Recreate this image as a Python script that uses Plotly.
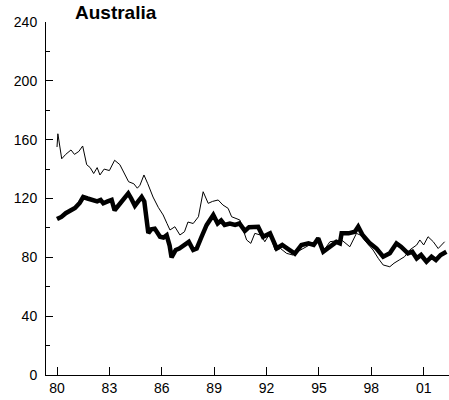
import plotly.graph_objects as go

# Thick series (decimal year, value)
thick_x = [1980.0, 1980.25, 1980.5, 1980.8, 1981.03, 1981.3, 1981.5, 1981.75, 1982.08, 1982.3,
           1982.5, 1982.65, 1982.9, 1983.13, 1983.3, 1983.55, 1983.8, 1984.08, 1984.25, 1984.46,
           1984.65, 1984.85, 1985.0, 1985.13, 1985.23, 1985.4, 1985.6, 1985.9, 1986.1, 1986.28,
           1986.45, 1986.56, 1986.8, 1987.0, 1987.3, 1987.55, 1987.8, 1988.0, 1988.28, 1988.57,
           1988.95, 1989.2, 1989.4, 1989.6, 1989.9, 1990.2, 1990.45, 1990.76, 1991.0, 1991.3,
           1991.52, 1991.8, 1992.2, 1992.58, 1992.9, 1993.2, 1993.62, 1994.0, 1994.4, 1994.7,
           1994.96, 1995.25, 1995.6, 1995.9, 1996.0, 1996.2, 1996.3, 1996.7, 1997.06, 1997.25,
           1997.5, 1997.92, 1998.3, 1998.68, 1999.06, 1999.44, 1999.7, 2000.1, 2000.35, 2000.6,
           2000.85, 2001.16, 2001.45, 2001.7, 2001.97, 2002.3]
thick_y = [106, 107.5, 110, 112, 113.5, 117, 121, 120, 119, 118,
           119, 116.7, 118, 119, 112, 116, 120, 123.5, 120, 115,
           118, 121, 118, 103, 96.5, 99, 99.5, 94, 93.5, 95,
           88, 80, 85, 86, 88.5, 90.5, 85, 86, 94, 102,
           108.8, 103, 105, 102, 103, 102, 103, 98, 100.5, 100.8,
           100.8, 94, 96.3, 86, 88.4, 86, 82.5, 88.4, 89.5, 88.4,
           92.9, 83.8, 87.2, 89.5, 90.5, 89.5, 96.3, 96.3, 97.4, 100.8,
           95.2, 89.5, 86, 80.4, 82.7, 89.5, 87.2, 82.7, 83.8, 79.3,
           81.6, 77, 80.4, 78.2, 81.6, 83.8]

# Thin series (decimal year, value)
thin_x = [1980.0, 1980.05, 1980.27, 1980.5, 1980.8, 1981.0, 1981.25, 1981.47, 1981.7, 1981.9,
          1982.1, 1982.3, 1982.46, 1982.7, 1983.0, 1983.3, 1983.6, 1983.85, 1984.1, 1984.4,
          1984.6, 1984.75, 1984.98, 1985.2, 1985.5, 1985.8, 1986.08, 1986.3, 1986.47, 1986.75,
          1987.04, 1987.3, 1987.5, 1987.8, 1988.1, 1988.37, 1988.66, 1988.9, 1989.23, 1989.5,
          1989.8, 1990.0, 1990.47, 1990.86, 1991.1, 1991.33, 1991.7, 1991.9, 1992.2, 1992.48,
          1992.8, 1993.15, 1993.5, 1993.8, 1994.1, 1994.4, 1994.7, 1994.96, 1995.3, 1995.63,
          1996.3, 1996.77, 1997.15, 1997.4, 1997.6, 1998.1, 1998.4, 1998.68, 1999.06, 1999.3,
          1999.6, 1999.9, 2000.2, 2000.6, 2000.78, 2001.0, 2001.25, 2001.55, 2001.83, 2002.2]
thin_y = [155, 164, 147, 150, 153, 150, 152, 155.7, 143, 141,
          137, 141, 136, 140, 139, 146, 143, 137, 131.4, 130,
          127, 129, 136, 130, 121, 114, 108.8, 103, 98.6, 100.8,
          95.2, 97.4, 104, 103, 107.6, 124.6, 116.7, 118, 119, 115.6,
          113.3, 107.6, 105.4, 91.8, 89.5, 96.3, 95, 90.6, 96.3, 85,
          86, 82.7, 81.6, 84, 86, 88, 89, 93.5, 85, 90.6,
          91.8, 87.2, 96.3, 95, 91.8, 85, 79.3, 74.8, 73.6, 76,
          78.2, 80.4, 85, 88.4, 91.8, 88.4, 94, 90.6, 86, 90.6]

x_tick_vals = [1980, 1983, 1986, 1989, 1992, 1995, 1998, 2001]
x_tick_text = ["80", "83", "86", "89", "92", "95", "98", "01"]
y_tick_vals = [0, 40, 80, 120, 160, 200, 240]
title_text = "Australia"

font_family = "Arial, Liberation Sans, sans-serif"

fig = go.Figure()
fig.add_trace(go.Scatter(x=thin_x, y=thin_y, mode="lines",
                         line=dict(color="black", width=1), showlegend=False))
fig.add_trace(go.Scatter(x=thick_x, y=thick_y, mode="lines",
                         line=dict(color="black", width=4.5), showlegend=False))

fig.update_layout(
    width=449, height=400,
    margin=dict(l=46, r=0, t=22, b=25),
    paper_bgcolor="white", plot_bgcolor="white",
    font=dict(family=font_family, size=14, color="black"),
    xaxis=dict(range=[1979.37, 2002.45], tickvals=x_tick_vals, ticktext=x_tick_text,
               showgrid=False, zeroline=False, showline=True, linecolor="black", linewidth=1,
               ticks="inside", ticklen=8, tickcolor="black", tickwidth=1),
    yaxis=dict(range=[0, 240], tickvals=y_tick_vals,
               showgrid=False, zeroline=False, showline=True, linecolor="black", linewidth=1,
               ticks="inside", ticklen=7, tickcolor="black", tickwidth=1,
               ticklabelstandoff=5,
               minor=dict(dtick=20, ticks="inside", ticklen=4, tickcolor="black", showgrid=False)),
    annotations=[dict(text="<b>" + title_text + "</b>", xref="paper", yref="paper",
                      x=0.174, y=1.028, xanchor="center", yanchor="middle",
                      showarrow=False, font=dict(size=19, family=font_family))],
)

# remove the browser's default 8px body margin so the figure sits at the page corner
fig.write_html("out.html", config={"displayModeBar": False},
               post_script="document.body.style.margin='0px';")
